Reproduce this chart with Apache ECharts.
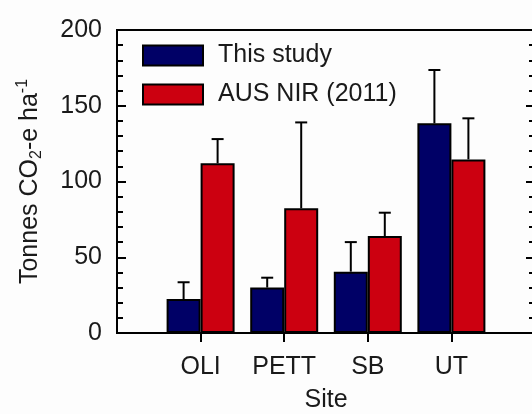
<!DOCTYPE html>
<html>
<head>
<meta charset="utf-8">
<script src="https://cdn.jsdelivr.net/npm/echarts@6/dist/echarts.min.js"></script>
<style>
  html, body { margin: 0; padding: 0; background: #fdfdfd; }
  #chart { width: 532px; height: 414px; }
</style>
</head>
<body>
<div id="chart"></div>
<script>
// sites (empty slots at both ends leave the gap the original axis has)
const sites = ['', 'OLI', 'PETT', 'SB', 'UT', ''];
const thisStudy = ['-', 22.4, 30, 40.5, 138.4, '-'];
const thisStudyTop = [null, 33.5, 36.5, 60, 173.6, null];
const ausNir = ['-', 112, 82.3, 64, 114.6, '-'];
const ausNirTop = [null, 128, 139, 79.4, 141.7, null];
const yTicks = [0, 50, 100, 150, 200];

const font = 'Liberation Sans, Arial, sans-serif';
const colors = ['#000066', '#cc0010'];
const txt = '#1a1a1a';

// error bar data: [index, bar value, upper value, side]
const errData = [];
sites.forEach(function (s, i) {
  if (thisStudyTop[i] != null) errData.push([i, thisStudy[i], thisStudyTop[i], -1]);
  if (ausNirTop[i] != null) errData.push([i, ausNir[i], ausNirTop[i], 1]);
});

const myChart = echarts.init(document.getElementById('chart'));
const yAxisBase = {
  type: 'value',
  min: yTicks[0],
  max: yTicks[yTicks.length - 1],
  interval: 50,
  splitLine: { show: false },
  axisLine: { show: true, lineStyle: { color: '#000', width: 2 } },
  axisTick: { show: true, inside: true, length: 9, lineStyle: { color: '#000', width: 2 } },
  minorTick: { show: true, splitNumber: 5, length: 6, lineStyle: { color: '#000', width: 2 } }
};

myChart.setOption({
  backgroundColor: '#fdfdfd',
  color: colors,
  textStyle: { fontFamily: font },
  grid: {
    left: 117, top: 30, right: -3, bottom: 81,
    outerBoundsMode: 'none',
    containLabel: false,
    show: true, borderColor: '#000', borderWidth: 2
  },
  legend: {
    data: ['This study', 'AUS NIR (2011)'],
    orient: 'vertical',
    left: 142, top: 43,
    padding: 0,
    itemWidth: 60, itemHeight: 20, itemGap: 14,
    icon: 'rect',
    textStyle: { fontSize: 25, lineHeight: 20, color: txt, fontFamily: font, padding: [0, 0, 0, 10] }
  },
  xAxis: {
    type: 'category',
    data: sites,
    boundaryGap: false,
    name: 'Site',
    nameLocation: 'middle',
    nameGap: 55,
    nameTextStyle: { fontSize: 25, color: txt, fontFamily: font },
    axisLine: { lineStyle: { color: '#000', width: 2 } },
    axisTick: {
      length: 9,
      interval: function (i, v) { return v !== ''; },
      lineStyle: { color: '#000', width: 2 }
    },
    axisLabel: { fontSize: 25, color: txt, margin: 22, interval: 0, fontFamily: font }
  },
  yAxis: [
    Object.assign({}, yAxisBase, {
      position: 'left',
      name: 'Tonnes CO{sub|2}-e ha{sup|-1}',
      nameLocation: 'middle',
      nameGap: 72,
      nameTextStyle: {
        fontSize: 25, color: txt, fontFamily: font, lineHeight: 30,
        rich: {
          sub: { fontSize: 16, lineHeight: 16, verticalAlign: 'bottom', color: txt, fontFamily: font },
          sup: { fontSize: 16, lineHeight: 16, verticalAlign: 'top', color: txt, fontFamily: font }
        }
      },
      axisLabel: { fontSize: 25, color: txt, margin: 15, fontFamily: font }
    }),
    Object.assign({}, yAxisBase, {
      position: 'right',
      axisLabel: { show: false }
    })
  ],
  series: [
    {
      name: 'This study',
      type: 'bar',
      data: thisStudy,
      barWidth: 34,
      barGap: '0%',
      itemStyle: { color: colors[0], borderColor: '#000', borderWidth: 2 }
    },
    {
      name: 'AUS NIR (2011)',
      type: 'bar',
      data: ausNir,
      barWidth: 34,
      itemStyle: { color: colors[1], borderColor: '#000', borderWidth: 2 }
    },
    {
      name: 'err',
      type: 'custom',
      z: 5,
      data: errData,
      renderItem: function (params, api) {
        const base = api.coord([api.value(0), api.value(1)]);
        const top = api.coord([api.value(0), api.value(2)]);
        const cx = base[0] + api.value(3) * 17;
        const st = { stroke: '#000', lineWidth: 2 };
        return {
          type: 'group',
          children: [
            { type: 'line', shape: { x1: cx, y1: base[1], x2: cx, y2: top[1] }, style: st },
            { type: 'line', shape: { x1: cx - 6, y1: top[1], x2: cx + 6, y2: top[1] }, style: st }
          ]
        };
      }
    }
  ]
});
</script>
</body>
</html>
